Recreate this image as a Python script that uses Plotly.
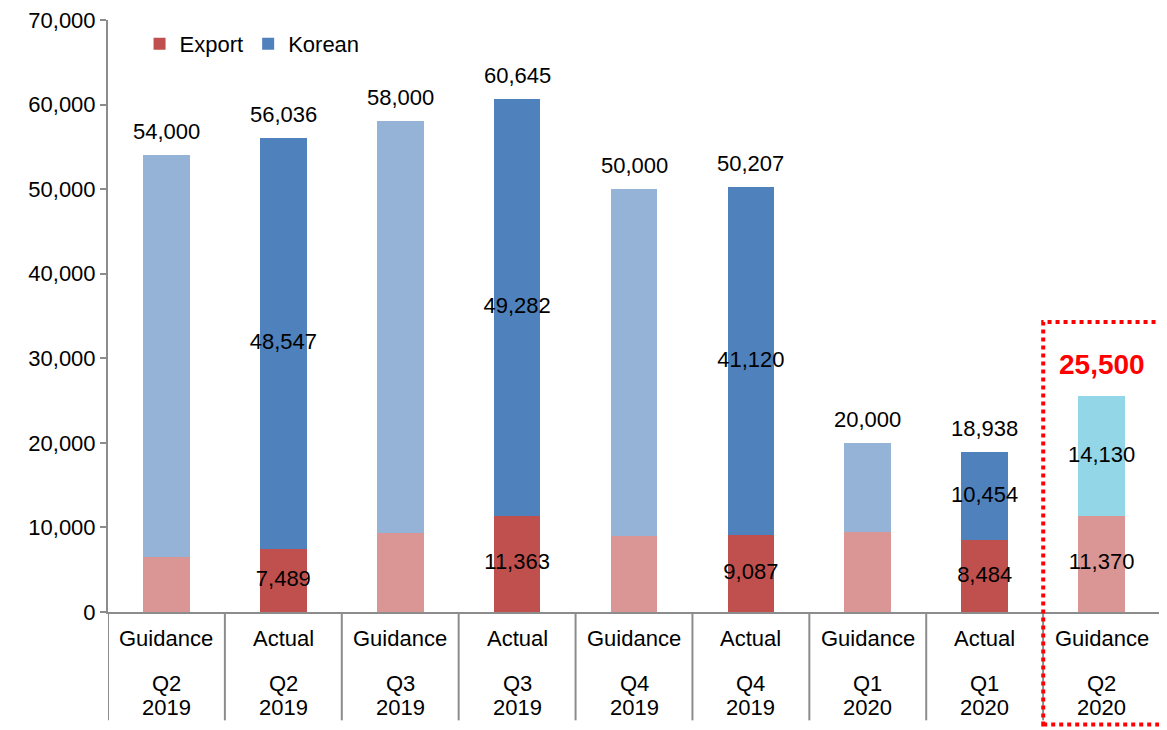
import plotly.graph_objects as go

# ---- data ----
stage = ["Guidance", "Actual", "Guidance", "Actual", "Guidance", "Actual", "Guidance", "Actual", "Guidance"]
quarter = ["Q2", "Q2", "Q3", "Q3", "Q4", "Q4", "Q1", "Q1", "Q2"]
year = ["2019", "2019", "2019", "2019", "2019", "2019", "2020", "2020", "2020"]
export = [6500, 7489, 9300, 11363, 9000, 9087, 9500, 8484, 11370]
total = [54000, 56036, 58000, 60645, 50000, 50207, 20000, 18938, 25500]
korean = [t - e for t, e in zip(total, export)]
show_seg_label = [False, True, False, True, False, True, False, True, True]

FONT = "Liberation Sans, Arial, sans-serif"
FS = 22
C_EXP_ACT, C_EXP_GUI = "#C0504D", "#D99694"
C_KOR_ACT, C_KOR_GUI, C_KOR_NEW = "#4F81BD", "#95B3D7", "#93D6E8"

n = len(stage)
xs = list(range(n))
act = [i for i in xs if stage[i] == "Actual"]
gui = [i for i in xs if stage[i] == "Guidance"]

fig = go.Figure()
BW = 0.40
fig.add_trace(go.Bar(name="Export", x=act, y=[export[i] for i in act], width=BW,
                     marker=dict(color=C_EXP_ACT, line=dict(width=0))))
fig.add_trace(go.Bar(name="Export g", x=gui, y=[export[i] for i in gui], width=BW,
                     marker=dict(color=C_EXP_GUI, line=dict(width=0)), showlegend=False))
fig.add_trace(go.Bar(name="Korean", x=act, y=[korean[i] for i in act], width=BW,
                     marker=dict(color=C_KOR_ACT, line=dict(width=0))))
fig.add_trace(go.Bar(name="Korean g", x=gui, y=[korean[i] for i in gui], width=BW,
                     marker=dict(color=[C_KOR_NEW if i == n - 1 else C_KOR_GUI for i in gui],
                                 line=dict(width=0)), showlegend=False))

# segment labels
lx, ly, lt = [], [], []
for i in xs:
    if show_seg_label[i]:
        lx += [i, i]
        ly += [export[i] / 2, export[i] + korean[i] / 2]
        lt += [f"{export[i]:,}", f"{korean[i]:,}"]
fig.add_trace(go.Scatter(x=lx, y=ly, text=lt, mode="text", textposition="middle center",
                         textfont=dict(family=FONT, size=FS, color="black"),
                         showlegend=False, hoverinfo="skip"))

# totals
for i in xs:
    last = i == n - 1
    fig.add_annotation(x=i, y=total[i], xref="x", yref="y",
                       text=f"<b>{total[i]:,}</b>" if last else f"{total[i]:,}",
                       showarrow=False, yanchor="bottom", yshift=14 if last else 9,
                       font=dict(family=FONT, size=28 if last else FS,
                                 color="#FF0000" if last else "black"))

# category axis labels and separators
for i in xs:
    fig.add_annotation(x=i, y=-0.045, xref="x", yref="paper", text=stage[i], showarrow=False,
                       font=dict(family=FONT, size=FS, color="black"), yanchor="middle")
    fig.add_annotation(x=i, y=-0.12, xref="x", yref="paper", text=quarter[i], showarrow=False,
                       font=dict(family=FONT, size=FS, color="black"), yanchor="middle")
    fig.add_annotation(x=i, y=-0.162, xref="x", yref="paper", text=year[i], showarrow=False,
                       font=dict(family=FONT, size=FS, color="black"), yanchor="middle")
for i in range(n):
    fig.add_shape(type="line", xref="x", yref="paper", x0=i - 0.5, x1=i - 0.5, y0=0, y1=-0.183,
                  line=dict(color="#8C8C8C", width=2))

# highlight box
fig.add_shape(type="rect", xref="paper", yref="paper", x0=0.889, x1=1.002, y0=-0.19, y1=0.49,
              line=dict(color="#FF0000", width=4, dash="dot"), layer="above")

fig.update_layout(
    width=1159, height=722, barmode="stack", bargap=0.6,
    plot_bgcolor="white", paper_bgcolor="white",
    margin=dict(l=100, r=7, t=12, b=118, autoexpand=False),
    font=dict(family=FONT, size=FS, color="black"),
    legend=dict(orientation="h", x=0.03, y=0.995, xanchor="left", yanchor="top",
                traceorder="normal",
                font=dict(family=FONT, size=FS), bgcolor="rgba(0,0,0,0)"),
    xaxis=dict(range=[-0.5, n - 0.5], showticklabels=False, showgrid=False, zeroline=False,
               showline=True, linecolor="#8C8C8C", linewidth=2, ticks="", automargin=False),
    yaxis=dict(range=[0, 70000], dtick=10000, tickformat=",", showgrid=False, zeroline=False,
               showline=True, linecolor="#8C8C8C", linewidth=2, ticks="outside",
               tickcolor="#8C8C8C", tickwidth=2, ticklen=6, ticklabeloverflow="allow",
               automargin=False,
               tickfont=dict(family=FONT, size=FS, color="black")),
    showlegend=True,
)

fig.write_html("out.html")
